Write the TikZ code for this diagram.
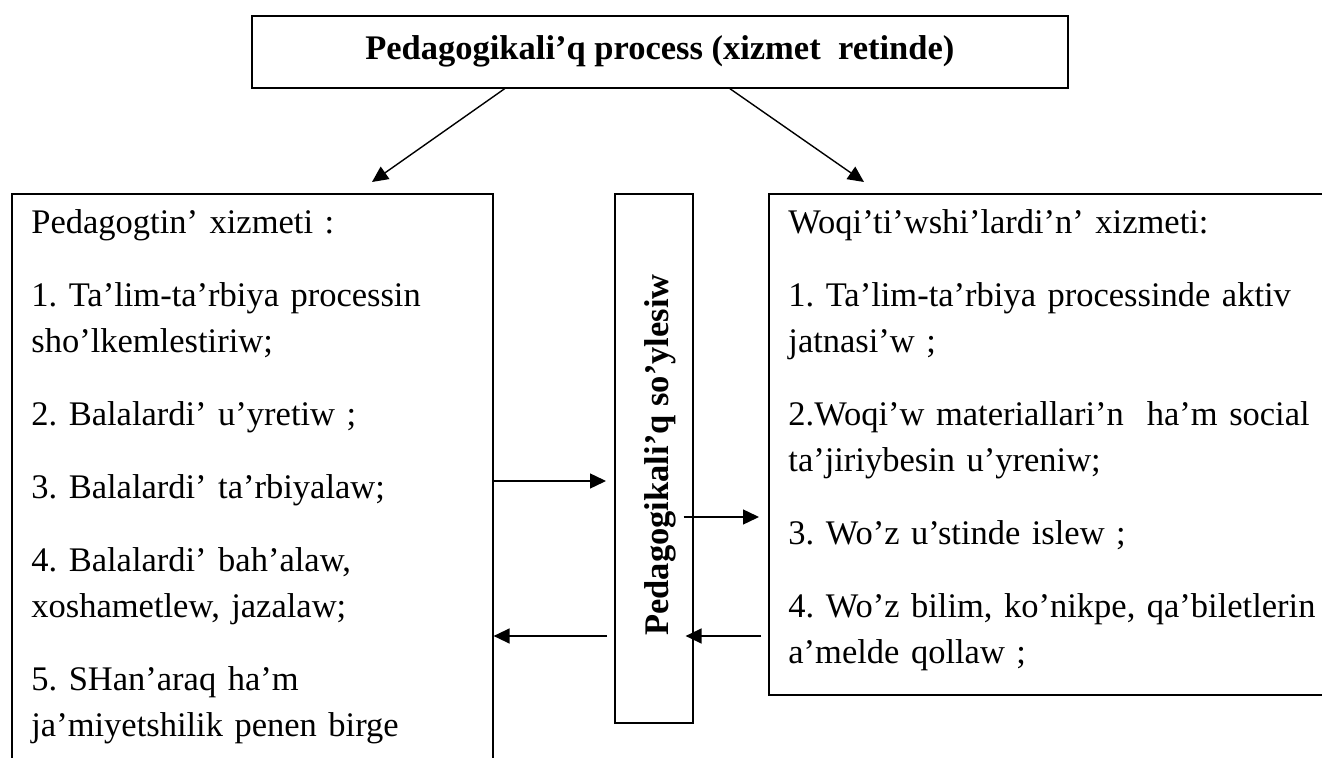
\documentclass[tikz,border=0pt]{standalone}
\usepackage{fontspec}
\setmainfont{Liberation Serif}
\usetikzlibrary{arrows.meta,positioning}
\frenchspacing
\begin{document}
\begin{tikzpicture}[x=0.5pt,y=-0.5pt,
   box/.style={draw,line width=0.8pt,inner sep=0pt,anchor=north west},
   txt/.style={inner xsep=10pt,inner ysep=3.9pt,anchor=north west,text width=270pt,align=left,font=\fontsize{17.25}{23}\selectfont\frenchspacing},
   bold/.style={font=\bfseries\fontsize{17.25}{23}\selectfont\frenchspacing},
   arr/.style={-{Triangle[length=8pt,width=7.5pt]},line width=0.7pt}]
   \useasboundingbox (0,0) rectangle (1322,758);
   \node [box,bold,minimum width=408pt,text height=22pt,text depth=14pt] (proc) at (251,15) {Pedagogikali’q process (xizmet\ \ retinde)};
   \node [box,minimum width=240.5pt,minimum height=320pt] (ped) at (11,193) {};
   \node [box,minimum width=39pt,minimum height=264.5pt] (soy) at (614,193) {};
   \node [box,minimum width=300pt,minimum height=250.5pt] (woq) at (768,193) {};
   \node [txt] (ped_t) at (ped.north west) {\strut Pedagogtin’ xizmeti :\\[13.5pt]
      1. Ta’lim-ta’rbiya processin\\ sho’lkemlestiriw;\\[13.5pt]
      2. Balalardi’ u’yretiw ;\\[13.5pt]
      3. Balalardi’ ta’rbiyalaw;\\[13.5pt]
      4. Balalardi’ bah’alaw,\\ xoshametlew, jazalaw;\\[13.5pt]
      5. SHan’araq ha’m\\ ja’miyetshilik penen birge};
   \node [txt] (woq_t) at (woq.north west) {\strut Woqi’ti’wshi’lardi’n’ xizmeti:\\[13.5pt]
      1. Ta’lim-ta’rbiya processinde aktiv\\ jatnasi’w ;\\[13.5pt]
      2.Woqi’w materiallari’n\ \ ha’m social\\ ta’jiriybesin u’yreniw;\\[13.5pt]
      3. Wo’z u’stinde islew ;\\[13.5pt]
      4. Wo’z bilim, ko’nikpe, qa’biletlerin\\ a’melde qollaw ;};
   \node [bold,rotate=90,anchor=base] (soy_t) at (668,455) {Pedagogikali’q so’ylesiw};
   \coordinate (ped_in) at (372,182);
   \coordinate (woq_in) at (864,182);
   \coordinate (to_soy) at (606,481);
   \coordinate (to_woq) at (759,517);
   \coordinate (from_soy) at (607,636);
   \draw [arr] ([xshift=-77.5pt]proc.south) -- (ped_in);
   \draw [arr] ([xshift=35pt]proc.south) -- (woq_in);
   \draw [arr] (ped.east |- to_soy) -- (to_soy);
   \draw [arr] ([xshift=-5pt]soy.east |- to_woq) -- (to_woq);
   \draw [arr] (from_soy) -- (ped.east |- from_soy);
   \draw [arr] ([xshift=-3.5pt]woq.west |- from_soy) -- ([xshift=-4pt]soy.east |- from_soy);
\end{tikzpicture}
\end{document}
